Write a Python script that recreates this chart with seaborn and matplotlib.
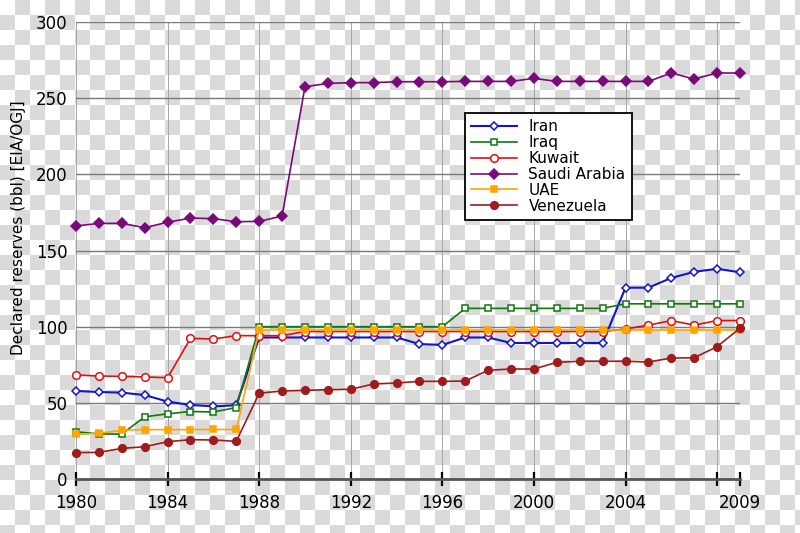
import numpy as np
import pandas as pd
import matplotlib
matplotlib.use('Agg')
import matplotlib.pyplot as plt
import seaborn as sns

# Declared oil reserves, billion barrels
years = list(range(1980, 2010))
iran = [57.8, 57.1, 56.7, 55.1, 50.8, 48.6, 47.7, 48.4, 92.9, 92.9,
        92.9, 92.9, 92.9, 92.9, 92.9, 88.6, 88.0, 92.9, 92.9, 89.3,
        89.3, 89.3, 89.3, 89.3, 125.6, 125.6, 132.0, 136.0, 138.0, 135.7]
iraq = [31.0, 29.6, 29.5, 40.8, 42.8, 44.3, 44.0, 46.9, 100.0, 100.0,
        100.0, 100.0, 100.0, 100.0, 100.0, 100.0, 100.0, 112.0, 112.0, 112.0,
        112.0, 112.0, 112.0, 112.0, 115.0, 115.0, 115.0, 115.0, 115.0, 115.0]
kuwait = [68.3, 67.6, 67.4, 67.0, 66.5, 92.3, 91.9, 94.1, 94.1, 94.1,
          96.8, 96.8, 96.8, 96.8, 96.8, 96.8, 96.8, 96.8, 96.8, 96.8,
          96.8, 96.8, 96.8, 96.8, 98.5, 101.0, 104.0, 101.0, 104.0, 104.0]
saudi = [166.1, 167.8, 167.8, 165.0, 168.5, 171.3, 170.9, 168.9, 169.1, 172.6,
         257.5, 259.7, 260.2, 260.2, 260.8, 260.8, 260.8, 261.0, 261.0, 261.0,
         263.0, 261.0, 261.0, 261.0, 261.0, 261.0, 266.5, 262.6, 266.5, 266.5]
uae = [29.3, 30.0, 32.0, 32.4, 32.4, 32.4, 32.5, 32.5, 97.8, 97.8,
       97.8, 97.8, 97.8, 97.8, 97.8, 97.8, 97.8, 97.8, 97.8, 97.8,
       97.8, 97.8, 97.8, 97.8, 97.8, 97.8, 97.8, 97.8, 97.8, 97.8]
venezuela = [17.3, 17.5, 20.1, 21.2, 24.5, 25.8, 25.6, 24.7, 56.3, 57.8,
             58.2, 58.6, 58.9, 62.4, 63.0, 64.1, 64.1, 64.3, 71.4, 72.2,
             72.2, 76.6, 77.3, 77.3, 77.3, 76.8, 79.4, 79.6, 86.9, 99.0]

countries = ['Iran', 'Iraq', 'Kuwait', 'Saudi Arabia', 'UAE', 'Venezuela']
values = [iran, iraq, kuwait, saudi, uae, venezuela]
colors = ['#1414cc', '#117711', '#e01010', '#7a0a7a', '#ffa500', '#a01c1c']
markers = ['D', 's', 'o', 'D', 's', 'o']
filled = [False, False, False, True, True, True]
msizes = [4.5, 5, 5.5, 5, 5, 5.5]

xticks = [1980, 1984, 1988, 1992, 1996, 2000, 2004, 2008, 2009]
xlabels = ['1980', '1984', '1988', '1992', '1996', '2000', '2004', '', '2009']
yticks = [0, 50, 100, 150, 200, 250, 300]

fig = plt.figure(figsize=(8, 5.33), dpi=100)
fig.patch.set_facecolor('white')

# checkered "transparent" background
yy, xx = np.mgrid[0:533, 0:800]
gray = ((xx // 15) + (yy // 15)) % 2 == 1
bg = np.ones((533, 800, 3))
bg[gray] = 0.855
fig.figimage(bg, xo=0, yo=0, origin='upper', zorder=-10)

ax = fig.add_axes([76 / 800, 1 - 479 / 533, 664 / 800, 457 / 533])
ax.patch.set_alpha(0)

for name, vals, c, m, f, ms in zip(countries, values, colors, markers, filled, msizes):
    sns.lineplot(x=years, y=vals, ax=ax, color=c, marker=m, markersize=ms,
                 markerfacecolor=c if f else 'white', markeredgecolor=c,
                 markeredgewidth=1.1, linewidth=1.5 if name == 'Iran' else 1.2,
                 label=name, clip_on=False, zorder=3)

ax.set_xlim(1980, 2009)
ax.set_ylim(0, 300)
ax.set_xticks(xticks)
ax.set_xticklabels(xlabels)
ax.set_yticks(yticks)
ax.tick_params(axis='x', direction='inout', length=10, width=1.6, color='black',
               labelsize=12, pad=6)
ax.tick_params(axis='y', length=0, labelsize=12, pad=6)

ax.grid(axis='y', color='#7a7a7a', linewidth=1.0, zorder=1)
ax.grid(axis='x', color='#a5a5a5', linewidth=0.7, zorder=1)
ax.set_axisbelow(True)
for s in ['left', 'right', 'top']:
    ax.spines[s].set_visible(False)
ax.spines['bottom'].set_color('#555555')
ax.spines['bottom'].set_linewidth(2.0)

ax.set_xlabel('')
ax.set_ylabel('Declared reserves (bbl) [EIA/OGJ]', fontsize=11, va='center')
ax.yaxis.set_label_coords((19 - 76) / 664, (479 - 228) / 457)

leg = ax.legend(loc='upper left', bbox_to_anchor=(465 / 800, 1 - 113 / 533),
                bbox_transform=fig.transFigure, borderaxespad=0, fontsize=11,
                labelspacing=0.06, handlelength=3.0, handletextpad=0.75,
                borderpad=0.4, fancybox=False, framealpha=1, edgecolor='black')
leg.get_frame().set_linewidth(1.3)
leg.set_zorder(5)

fig.savefig('out.png', dpi=100)
